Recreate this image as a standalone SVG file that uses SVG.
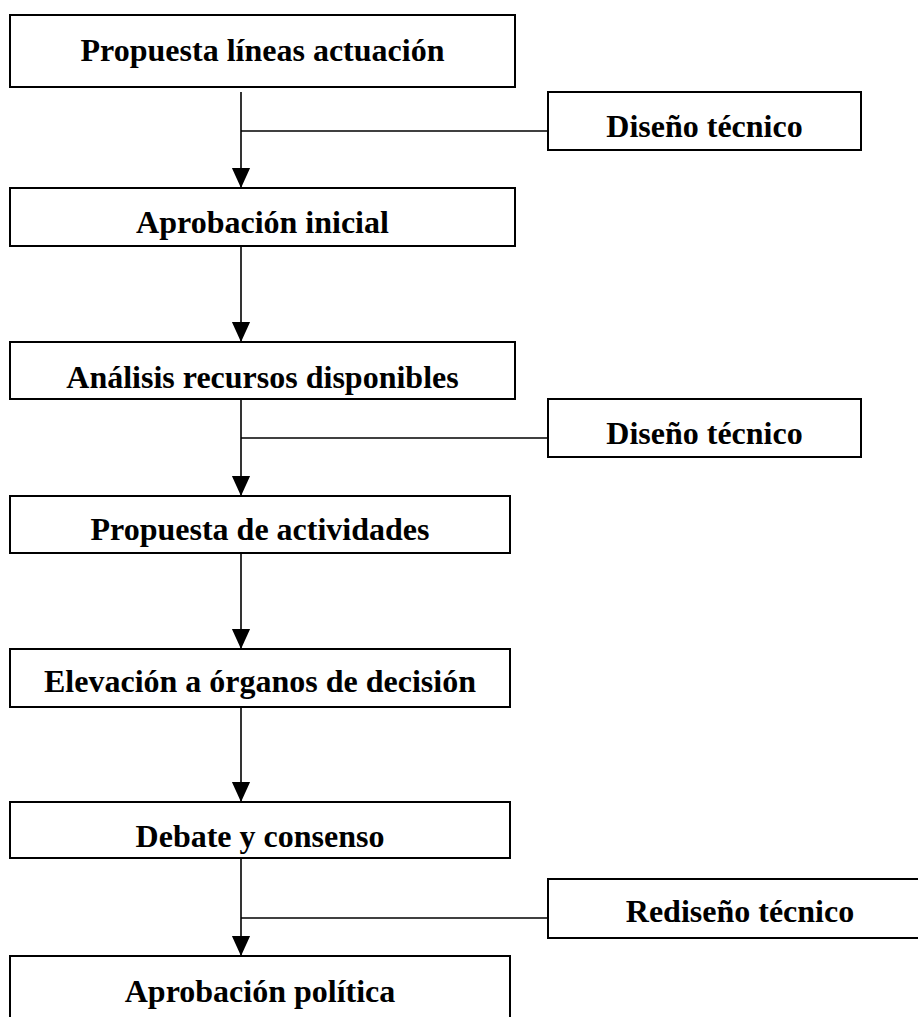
<svg xmlns="http://www.w3.org/2000/svg" width="918" height="1017" viewBox="0 0 918 1017">
<defs>
<style>
.box{fill:#fff;stroke:#000;stroke-width:2}
.lbl{font-family:"Liberation Serif","Times New Roman",serif;font-weight:bold;font-size:32px;fill:#000;text-anchor:middle}
.ln{fill:none;stroke:#000;stroke-width:1.6}
</style>
<marker id="arr" markerWidth="20" markerHeight="22" refX="22" refY="10" orient="auto" markerUnits="userSpaceOnUse" viewBox="0 0 22 20">
<path d="M0,0 L22,10 L0,20 Z" fill="#000"/>
</marker>
</defs>
<rect width="918" height="1017" fill="#fff"/>
<g id="connectors">
<line class="ln" x1="241" y1="92" x2="241" y2="188" marker-end="url(#arr)"/>
<line class="ln" x1="241" y1="131" x2="548" y2="131"/>
<line class="ln" x1="241" y1="246" x2="241" y2="342" marker-end="url(#arr)"/>
<line class="ln" x1="241" y1="399" x2="241" y2="496" marker-end="url(#arr)"/>
<line class="ln" x1="241" y1="438" x2="548" y2="438"/>
<line class="ln" x1="241" y1="553" x2="241" y2="649" marker-end="url(#arr)"/>
<line class="ln" x1="241" y1="707" x2="241" y2="802" marker-end="url(#arr)"/>
<line class="ln" x1="241" y1="858" x2="241" y2="956" marker-end="url(#arr)"/>
<line class="ln" x1="241" y1="918" x2="548" y2="918"/>
</g>
<g id="n1"><rect class="box" x="10" y="15" width="505" height="72"/><text class="lbl" x="262.5" y="61">Propuesta líneas actuación</text></g>
<g id="n2"><rect class="box" x="548" y="92" width="313" height="58"/><text class="lbl" x="704.5" y="137">Diseño técnico</text></g>
<g id="n3"><rect class="box" x="10" y="188" width="505" height="58"/><text class="lbl" x="262.5" y="233">Aprobación inicial</text></g>
<g id="n4"><rect class="box" x="10" y="342" width="505" height="57"/><text class="lbl" x="262.5" y="388">Análisis recursos disponibles</text></g>
<g id="n5"><rect class="box" x="548" y="399" width="313" height="58"/><text class="lbl" x="704.5" y="444">Diseño técnico</text></g>
<g id="n6"><rect class="box" x="10" y="496" width="500" height="57"/><text class="lbl" x="260" y="540">Propuesta de actividades</text></g>
<g id="n7"><rect class="box" x="10" y="649" width="500" height="58"/><text class="lbl" x="260" y="692">Elevación a órganos de decisión</text></g>
<g id="n8"><rect class="box" x="10" y="802" width="500" height="56"/><text class="lbl" x="260" y="847">Debate y consenso</text></g>
<g id="n9"><rect class="box" x="548" y="879" width="390" height="59"/><text class="lbl" x="740" y="922">Rediseño técnico</text></g>
<g id="n10"><rect class="box" x="10" y="956" width="500" height="80"/><text class="lbl" x="260" y="1002">Aprobación política</text></g>
</svg>
